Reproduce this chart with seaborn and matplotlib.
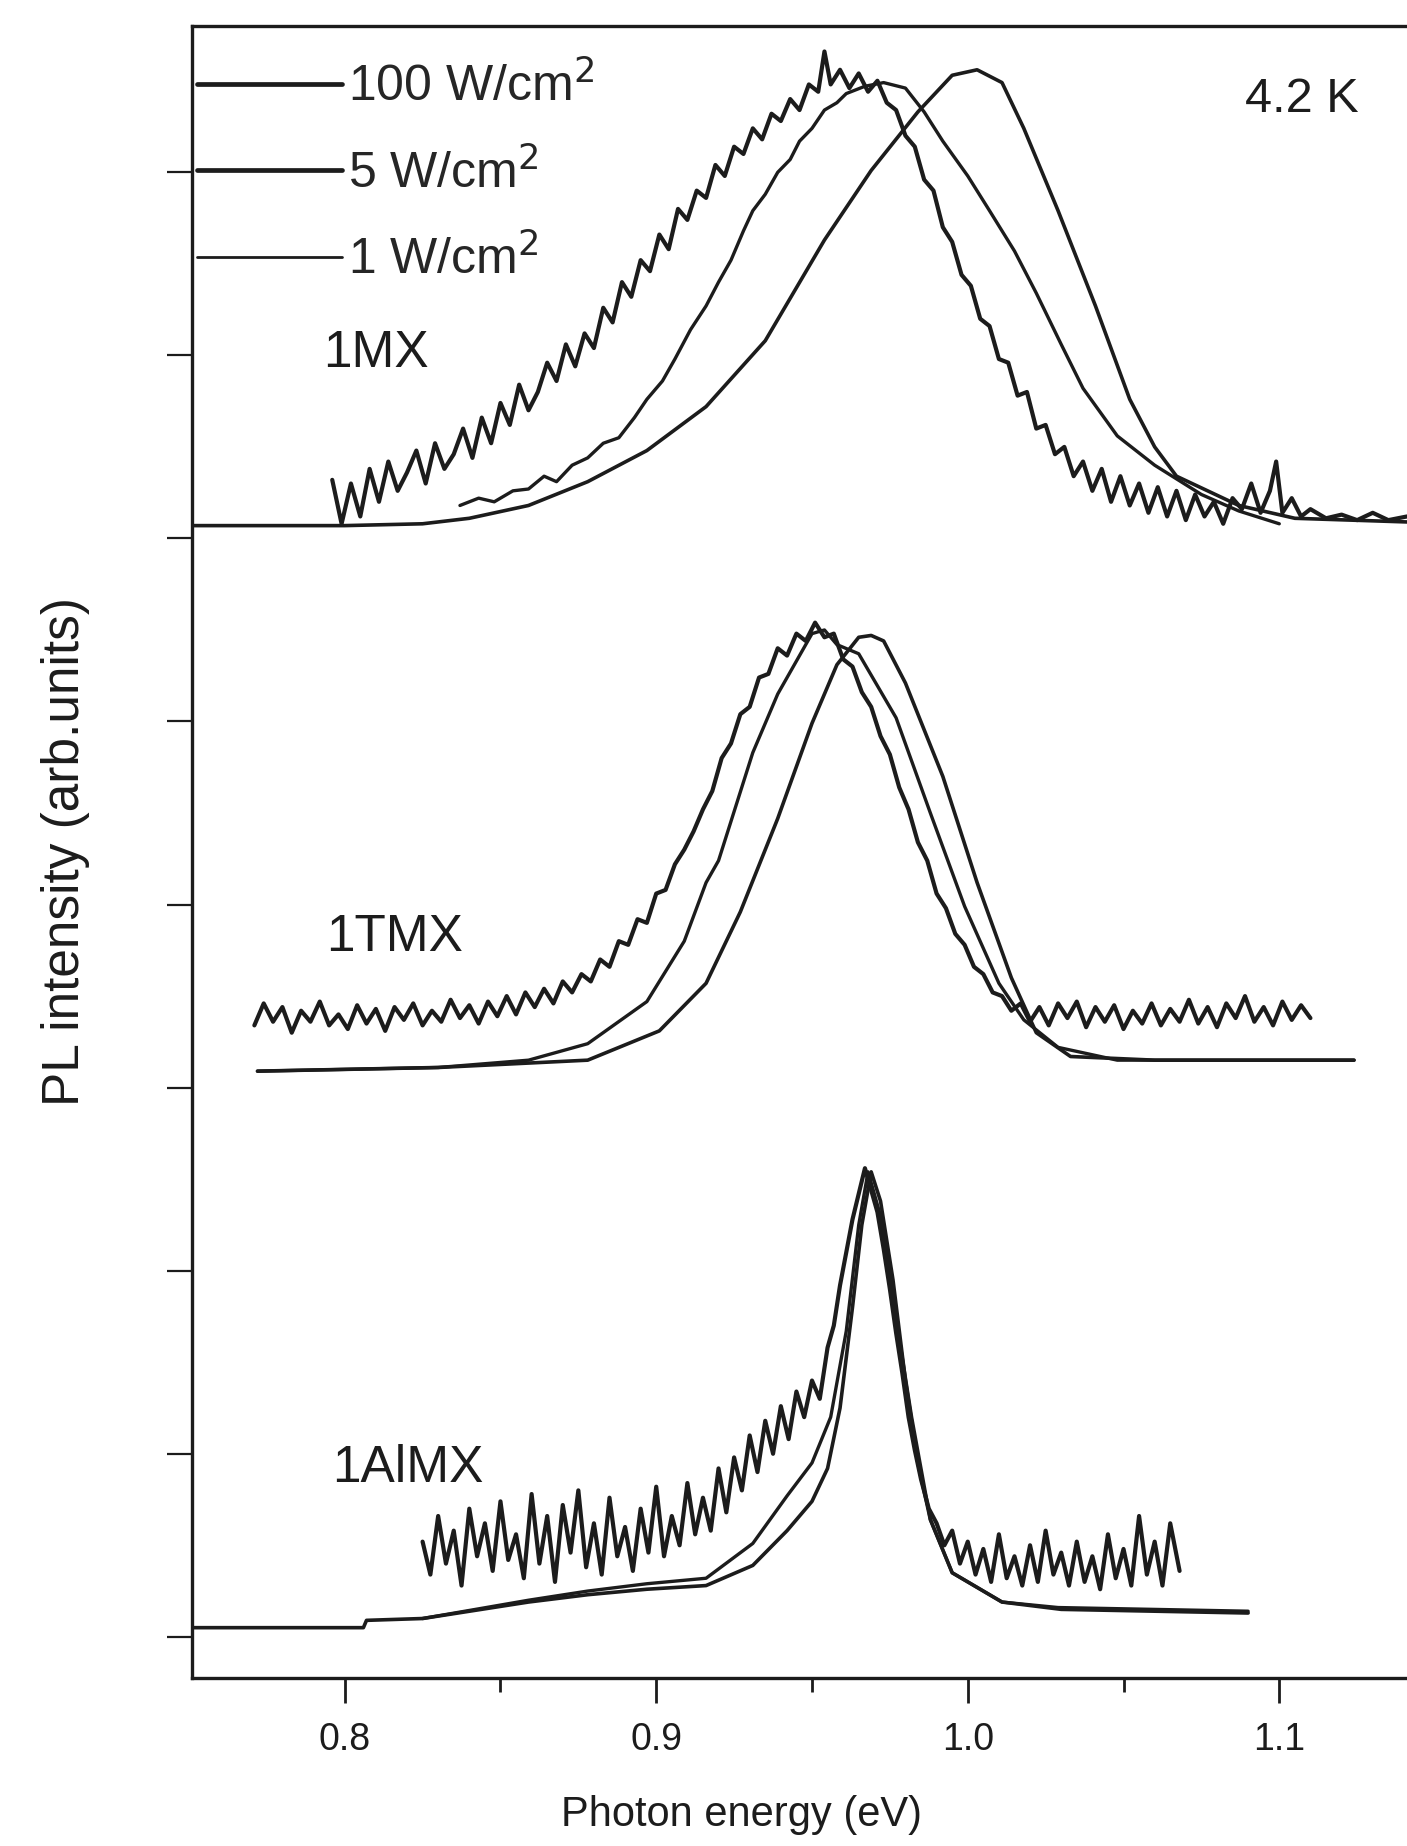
import numpy as np
import pandas as pd
import matplotlib
matplotlib.use('Agg')
import matplotlib.pyplot as plt
from matplotlib.ticker import MultipleLocator
import seaborn as sns

# ── Data (photon energy in eV, PL intensity in arb. units, offset per panel) ──

POWERS = ['100 W/cm$^2$', '5 W/cm$^2$', '1 W/cm$^2$']

# 1MX
mx_hi_x = [0.751, 0.800, 0.825, 0.840, 0.859, 0.878, 0.897, 0.916, 0.935, 0.954,
           0.969, 0.984, 0.995, 1.003, 1.011, 1.018, 1.029, 1.041, 1.052, 1.060,
           1.067, 1.087, 1.105, 1.141]
mx_hi_y = [6.07, 6.07, 6.08, 6.11, 6.18, 6.31, 6.48, 6.72, 7.08, 7.63,
           8.01, 8.33, 8.53, 8.56, 8.49, 8.24, 7.79, 7.27, 6.76, 6.50,
           6.34, 6.18, 6.11, 6.09]

mx_mid_x = [0.837, 0.843, 0.848, 0.854, 0.859, 0.864, 0.868, 0.873, 0.878, 0.883,
            0.888, 0.893, 0.897, 0.902, 0.906, 0.911, 0.916, 0.920, 0.924, 0.928,
            0.931, 0.935, 0.939, 0.943, 0.946, 0.950, 0.954, 0.958, 0.961, 0.967,
            0.973, 0.980, 0.986, 0.992, 1.000, 1.007, 1.015, 1.022, 1.030, 1.037,
            1.048, 1.060, 1.075, 1.087, 1.100]
mx_mid_y = [6.18, 6.22, 6.20, 6.26, 6.27, 6.34, 6.31, 6.40, 6.44, 6.52,
            6.55, 6.66, 6.76, 6.86, 6.98, 7.14, 7.27, 7.40, 7.52, 7.68,
            7.79, 7.88, 8.00, 8.07, 8.17, 8.24, 8.34, 8.38, 8.43, 8.47,
            8.49, 8.46, 8.33, 8.17, 7.98, 7.79, 7.57, 7.34, 7.06, 6.82,
            6.56, 6.40, 6.24, 6.15, 6.08]

mx_lo_x = [0.796, 0.799, 0.802, 0.805, 0.808, 0.811, 0.814, 0.817, 0.820, 0.823,
           0.826, 0.829, 0.832, 0.835, 0.838, 0.841, 0.844, 0.847, 0.850, 0.853,
           0.856, 0.859, 0.862, 0.865, 0.868, 0.871, 0.874, 0.877, 0.880, 0.883,
           0.886, 0.889, 0.892, 0.895, 0.898, 0.901, 0.904, 0.907, 0.910, 0.913,
           0.916, 0.919, 0.922, 0.925, 0.928, 0.931, 0.934, 0.937, 0.940, 0.943,
           0.946, 0.949, 0.952, 0.954, 0.956, 0.959, 0.962, 0.965, 0.968, 0.971,
           0.974, 0.977, 0.980, 0.983, 0.986, 0.989, 0.992, 0.995, 0.998, 1.001,
           1.004, 1.007, 1.010, 1.013, 1.016, 1.019, 1.022, 1.025, 1.028, 1.031,
           1.034, 1.037, 1.040, 1.043, 1.046, 1.049, 1.052, 1.055, 1.058, 1.061,
           1.064, 1.067, 1.070, 1.073, 1.076, 1.079, 1.082, 1.085, 1.088, 1.091,
           1.094, 1.097, 1.099, 1.101, 1.104, 1.107, 1.110, 1.115, 1.120, 1.125,
           1.130, 1.135, 1.141]
mx_lo_y = [6.32, 6.08, 6.30, 6.12, 6.38, 6.20, 6.42, 6.26, 6.36, 6.48,
           6.30, 6.52, 6.38, 6.46, 6.60, 6.44, 6.66, 6.52, 6.74, 6.62,
           6.84, 6.70, 6.80, 6.96, 6.86, 7.06, 6.94, 7.12, 7.04, 7.26,
           7.18, 7.40, 7.32, 7.52, 7.46, 7.66, 7.58, 7.80, 7.74, 7.90,
           7.86, 8.04, 7.98, 8.14, 8.10, 8.24, 8.18, 8.32, 8.28, 8.40,
           8.34, 8.48, 8.44, 8.66, 8.48, 8.56, 8.46, 8.54, 8.44, 8.50,
           8.38, 8.34, 8.20, 8.14, 7.96, 7.90, 7.70, 7.62, 7.44, 7.38,
           7.20, 7.16, 6.98, 6.96, 6.78, 6.80, 6.60, 6.62, 6.46, 6.50,
           6.34, 6.42, 6.26, 6.38, 6.20, 6.34, 6.18, 6.30, 6.14, 6.28,
           6.12, 6.26, 6.10, 6.24, 6.12, 6.20, 6.08, 6.22, 6.16, 6.30,
           6.14, 6.26, 6.42, 6.14, 6.22, 6.12, 6.16, 6.11, 6.13, 6.10,
           6.14, 6.10, 6.12]

# 1TMX
tmx_hi_x = [0.772, 0.830, 0.878, 0.901, 0.916, 0.927, 0.939, 0.950, 0.958, 0.965,
            0.969, 0.973, 0.980, 0.992, 1.003, 1.014, 1.022, 1.033, 1.060, 1.124]
tmx_hi_y = [3.09, 3.11, 3.15, 3.31, 3.57, 3.96, 4.47, 4.99, 5.31, 5.46,
            5.47, 5.44, 5.21, 4.70, 4.12, 3.60, 3.30, 3.17, 3.15, 3.15]

tmx_mid_x = [0.772, 0.830, 0.859, 0.878, 0.897, 0.909, 0.916, 0.920, 0.931, 0.939,
             0.950, 0.954, 0.958, 0.965, 0.977, 0.988, 0.999, 1.010, 1.018, 1.029,
             1.048, 1.124]
tmx_mid_y = [3.09, 3.11, 3.15, 3.24, 3.47, 3.80, 4.12, 4.24, 4.83, 5.15,
             5.48, 5.50, 5.42, 5.37, 5.02, 4.50, 3.99, 3.57, 3.37, 3.22,
             3.15, 3.15]

tmx_lo_x = [0.771, 0.774, 0.777, 0.780, 0.783, 0.786, 0.789, 0.792, 0.795, 0.798,
            0.801, 0.804, 0.807, 0.810, 0.813, 0.816, 0.819, 0.822, 0.825, 0.828,
            0.831, 0.834, 0.837, 0.840, 0.843, 0.846, 0.849, 0.852, 0.855, 0.858,
            0.861, 0.864, 0.867, 0.870, 0.873, 0.876, 0.879, 0.882, 0.885, 0.888,
            0.891, 0.894, 0.897, 0.900, 0.903, 0.906, 0.909, 0.912, 0.915, 0.918,
            0.921, 0.924, 0.927, 0.930, 0.933, 0.936, 0.939, 0.942, 0.945, 0.948,
            0.951, 0.954, 0.957, 0.960, 0.963, 0.966, 0.969, 0.972, 0.975, 0.978,
            0.981, 0.984, 0.987, 0.990, 0.993, 0.996, 0.999, 1.002, 1.005, 1.008,
            1.011, 1.014, 1.017, 1.020, 1.023, 1.026, 1.029, 1.032, 1.035, 1.038,
            1.041, 1.044, 1.047, 1.050, 1.053, 1.056, 1.059, 1.062, 1.065, 1.068,
            1.071, 1.074, 1.077, 1.080, 1.083, 1.086, 1.089, 1.092, 1.095, 1.098,
            1.101, 1.104, 1.107, 1.110]
tmx_lo_y = [3.34, 3.46, 3.36, 3.44, 3.30, 3.42, 3.36, 3.47, 3.34, 3.40,
            3.32, 3.45, 3.35, 3.43, 3.31, 3.44, 3.37, 3.46, 3.34, 3.42,
            3.36, 3.48, 3.38, 3.45, 3.35, 3.47, 3.39, 3.50, 3.40, 3.52,
            3.44, 3.54, 3.46, 3.58, 3.52, 3.62, 3.58, 3.70, 3.66, 3.80,
            3.78, 3.92, 3.90, 4.06, 4.08, 4.22, 4.30, 4.40, 4.52, 4.62,
            4.80, 4.88, 5.04, 5.08, 5.24, 5.26, 5.40, 5.36, 5.48, 5.44,
            5.54, 5.46, 5.48, 5.34, 5.30, 5.16, 5.08, 4.92, 4.82, 4.64,
            4.52, 4.34, 4.24, 4.06, 3.98, 3.84, 3.78, 3.66, 3.62, 3.52,
            3.50, 3.42, 3.46, 3.36, 3.44, 3.34, 3.46, 3.38, 3.47, 3.33,
            3.44, 3.36, 3.45, 3.32, 3.42, 3.35, 3.46, 3.34, 3.43, 3.36,
            3.48, 3.35, 3.44, 3.33, 3.46, 3.38, 3.50, 3.36, 3.44, 3.34,
            3.47, 3.37, 3.45, 3.38]

# 1AlMX
almx_hi_x = [0.751, 0.806, 0.807, 0.825, 0.859, 0.878, 0.897, 0.916, 0.931, 0.942,
             0.950, 0.955, 0.959, 0.963, 0.966, 0.969, 0.972, 0.976, 0.980, 0.984,
             0.988, 0.995, 1.011, 1.030, 1.090]
almx_hi_y = [0.05, 0.05, 0.09, 0.10, 0.19, 0.23, 0.26, 0.28, 0.39, 0.58,
             0.74, 0.92, 1.25, 1.80, 2.25, 2.54, 2.38, 1.95, 1.40, 0.95,
             0.64, 0.35, 0.19, 0.15, 0.13]

almx_mid_x = [0.825, 0.859, 0.878, 0.897, 0.916, 0.931, 0.942, 0.950, 0.956, 0.961,
              0.965, 0.968, 0.972, 0.977, 0.982, 0.988, 0.995, 1.011, 1.029, 1.090]
almx_mid_y = [0.10, 0.20, 0.25, 0.29, 0.32, 0.51, 0.77, 0.95, 1.20, 1.67,
              2.25, 2.54, 2.30, 1.74, 1.20, 0.64, 0.35, 0.19, 0.16, 0.14]

almx_lo_x = [0.825, 0.8275, 0.830, 0.8325, 0.835, 0.8375, 0.840, 0.8425, 0.845, 0.8475,
             0.850, 0.8525, 0.855, 0.8575, 0.860, 0.8625, 0.865, 0.8675, 0.870, 0.8725,
             0.875, 0.8775, 0.880, 0.8825, 0.885, 0.8875, 0.890, 0.8925, 0.895, 0.8975,
             0.900, 0.9025, 0.905, 0.9075, 0.910, 0.9125, 0.915, 0.9175, 0.920, 0.9225,
             0.925, 0.9275, 0.930, 0.9325, 0.935, 0.9375, 0.940, 0.9425, 0.945, 0.9475,
             0.950, 0.9525, 0.955, 0.957, 0.959, 0.961, 0.963, 0.965, 0.967, 0.969,
             0.971, 0.973, 0.975, 0.977, 0.979, 0.981, 0.983, 0.985, 0.9875, 0.990,
             0.9925, 0.995, 0.9975, 1.000, 1.0025, 1.005, 1.0075, 1.010, 1.0125, 1.015,
             1.0175, 1.020, 1.0225, 1.025, 1.0275, 1.030, 1.0325, 1.035, 1.0375, 1.040,
             1.0425, 1.045, 1.0475, 1.050, 1.0525, 1.055, 1.0575, 1.060, 1.0625, 1.065,
             1.068]
almx_lo_y = [0.52, 0.34, 0.66, 0.40, 0.58, 0.28, 0.70, 0.44, 0.62, 0.36,
             0.74, 0.42, 0.56, 0.32, 0.78, 0.40, 0.66, 0.30, 0.72, 0.46,
             0.80, 0.38, 0.62, 0.34, 0.76, 0.44, 0.60, 0.36, 0.70, 0.46,
             0.82, 0.44, 0.66, 0.50, 0.84, 0.56, 0.76, 0.58, 0.92, 0.68,
             0.98, 0.80, 1.10, 0.90, 1.18, 1.00, 1.26, 1.08, 1.34, 1.20,
             1.40, 1.30, 1.58, 1.70, 1.92, 2.10, 2.28, 2.42, 2.56, 2.44,
             2.32, 2.12, 1.90, 1.66, 1.44, 1.20, 1.02, 0.86, 0.70, 0.62,
             0.50, 0.58, 0.40, 0.52, 0.34, 0.48, 0.30, 0.56, 0.32, 0.44,
             0.28, 0.50, 0.30, 0.58, 0.34, 0.46, 0.28, 0.52, 0.30, 0.44,
             0.26, 0.56, 0.32, 0.48, 0.28, 0.66, 0.34, 0.52, 0.28, 0.62,
             0.36]

PANELS = [
    ('1MX',   [(mx_hi_x, mx_hi_y), (mx_mid_x, mx_mid_y), (mx_lo_x, mx_lo_y)]),
    ('1TMX',  [(tmx_hi_x, tmx_hi_y), (tmx_mid_x, tmx_mid_y), (tmx_lo_x, tmx_lo_y)]),
    ('1AlMX', [(almx_hi_x, almx_hi_y), (almx_mid_x, almx_mid_y), (almx_lo_x, almx_lo_y)]),
]
LABEL_POS = {'1MX': (0.793, 7.01), '1TMX': (0.794, 3.82), '1AlMX': (0.796, 0.92)}
LINE_W = [2.6, 2.4, 3.0]
LEGEND_W = [3.4, 3.4, 2.0]
INK = '#1c1c1c'

# ── Plot ──────────────────────────────────────────────────────────────────────

sns.set_theme(style='ticks')
plt.rcParams['font.family'] = ['Liberation Sans', 'DejaVu Sans']

fig = plt.figure(figsize=(14.07, 18.46), dpi=100)
ax = fig.add_axes([0.1365, 0.091, 0.8635, 0.895])

for name, curves in PANELS:
    for i, (xs, ys) in enumerate(curves):
        df = pd.DataFrame({'energy': xs, 'pl': ys})
        sns.lineplot(data=df, x='energy', y='pl', ax=ax, color=INK,
                     lw=LINE_W[i], sort=False, estimator=None,
                     label=POWERS[i] if name == '1MX' else None)
    tx, ty = LABEL_POS[name]
    ax.text(tx, ty, name, fontsize=37, color=INK, va='center', ha='left')

ax.text(1.089, 8.40, '4.2 K', fontsize=35, color=INK, va='center', ha='left')

ax.set_xlim(0.751, 1.141)
ax.set_ylim(-0.225, 8.80)
ax.xaxis.set_minor_locator(MultipleLocator(0.05))
ax.set_xticks([0.8, 0.9, 1.0, 1.1])
ax.set_xticklabels(['0.8', '0.9', '1.0', '1.1'])
ax.set_yticks(np.arange(0, 9))
ax.set_yticklabels([])
ax.tick_params(axis='x', which='major', length=18, width=2, labelsize=27,
               pad=14, colors=INK)
ax.tick_params(axis='x', which='minor', length=10, width=2, colors=INK)
ax.tick_params(axis='y', length=18, width=1.6, colors=INK)

for side in ['left', 'bottom', 'top']:
    ax.spines[side].set_linewidth(2.4)
    ax.spines[side].set_color(INK)
ax.spines['right'].set_visible(False)

ax.set_xlabel('Photon energy (eV)', fontsize=30, color=INK)
ax.xaxis.set_label_coords(0.452, -0.071)
ax.set_ylabel('PL intensity (arb.units)', fontsize=37, color=INK, labelpad=52)

leg = ax.legend(loc='upper left', bbox_to_anchor=(-0.012, 0.99), frameon=False,
                fontsize=36, handlelength=2.9, handletextpad=0.12,
                labelspacing=0.75, borderaxespad=0.0)
for line, w in zip(leg.get_lines(), LEGEND_W):
    line.set_color(INK)
    line.set_linewidth(w)

fig.savefig('out.png', dpi=100)
